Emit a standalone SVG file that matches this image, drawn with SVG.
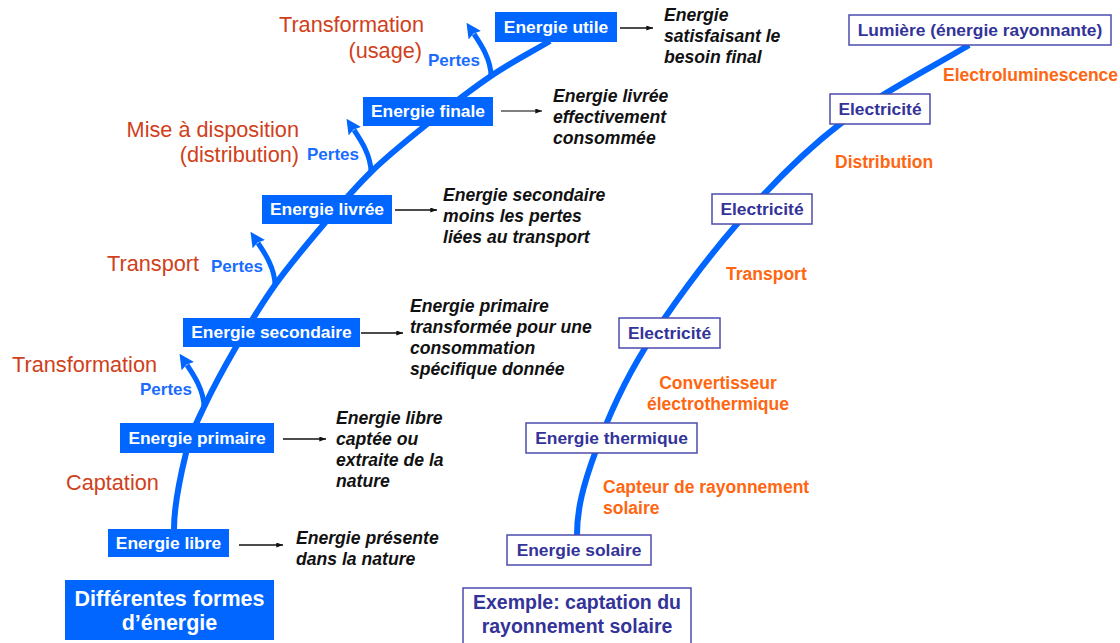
<svg xmlns="http://www.w3.org/2000/svg" width="1120" height="643" viewBox="0 0 1120 643">
<defs>
<style>
.bx{fill:#0066FF}
.bt{font-family:"Liberation Sans",Arial,sans-serif;font-weight:bold;font-size:17.4px;fill:#ffffff;text-anchor:middle}
.px{fill:#ffffff;stroke:#4C4CAE;stroke-width:1.5}
.pt{font-family:"Liberation Sans",Arial,sans-serif;font-weight:bold;font-size:17.4px;fill:#333399;text-anchor:middle}
.ds{font-family:"Liberation Sans",Arial,sans-serif;font-weight:bold;font-style:italic;font-size:17.6px;fill:#111111}
.rd{font-family:"Liberation Sans",Arial,sans-serif;font-size:21.7px;fill:#D0401A}
.pe{font-family:"Liberation Sans",Arial,sans-serif;font-weight:bold;font-size:17px;fill:#1A6CFF}
.or{font-family:"Liberation Sans",Arial,sans-serif;font-weight:bold;font-size:17.5px;fill:#FF6611}
.main{fill:none;stroke:#0066FF;stroke-width:6}
.perte{fill:none;stroke:#0066FF;stroke-width:5;marker-end:url(#bh)}
.thin{fill:none;stroke:#111111;stroke-width:1.3;marker-end:url(#ah)}
</style>
<marker id="ah" viewBox="0 0 8 6" refX="8" refY="3" markerWidth="7" markerHeight="5" markerUnits="userSpaceOnUse" orient="auto">
<path d="M0,0 L8,3 L0,6 z" fill="#111111"/>
</marker>
<marker id="bh" viewBox="0 0 10 10" refX="1" refY="5" markerWidth="15" markerHeight="15" markerUnits="userSpaceOnUse" orient="auto">
<path d="M0,0 L10,5 L0,10 L1.5,5 z" fill="#0066FF"/>
</marker>
</defs>
<rect x="0" y="0" width="1120" height="643" fill="#ffffff"/>

<g id="connectors">
<path class="main" d="M174,529 C174,504 181,473.33 186,453 C191,432.67 195.67,424.67 204,407 C212.33,389.33 224.17,367.33 236,347 C247.83,326.67 260.33,305.5 275,285 C289.67,264.5 308,242.83 324,224 C340,205.17 354,188.5 371,172 C388,155.5 406,141 426,125 C446,109 470.33,90 491,76 C511.67,62 530.33,52.67 550,41"/>
<path class="main" d="M577,535 C577,508 583.67,484.17 595,453 C606.33,421.83 621.33,386.17 645,348 C668.67,309.83 704.5,261.33 737,224 C769.5,186.67 801.33,153.83 840,124 C878.67,94.17 936.75,64.75 969,45"/>
<path class="perte" d="M491,76 C491,59 480,43 474,34"/>
<path class="perte" d="M371,172 C371,155 360,139 354,130"/>
<path class="perte" d="M275,285 C275,268 264,252 258,243"/>
<path class="perte" d="M204,407 C204,390 193,374 187,365"/>
<path class="thin" d="M620,28 L653,28"/>
<path class="thin" d="M501,111 L542,111" style="stroke:#555555"/>
<path class="thin" d="M395,210 L437,210"/>
<path class="thin" d="M361,333 L403,333"/>
<path class="thin" d="M283,439 L326,439"/>
<path class="thin" d="M239,545 L283,545"/>
</g>

<g id="labels">
<text class="rd" x="424" y="32" text-anchor="end">Transformation</text>
<text class="rd" x="422" y="58" text-anchor="end">(usage)</text>
<text class="rd" x="299" y="137" text-anchor="end">Mise à disposition</text>
<text class="rd" x="299" y="162" text-anchor="end">(distribution)</text>
<text class="rd" x="107" y="271">Transport</text>
<text class="rd" x="12" y="372">Transformation</text>
<text class="rd" x="66" y="490">Captation</text>
<text class="pe" x="428" y="66">Pertes</text>
<text class="pe" x="307" y="160">Pertes</text>
<text class="pe" x="211" y="272">Pertes</text>
<text class="pe" x="140" y="395">Pertes</text>
<text class="or" x="943" y="81">Electroluminescence</text>
<text class="or" x="835" y="168">Distribution</text>
<text class="or" x="726" y="280">Transport</text>
<text class="or" x="718" y="389" text-anchor="middle">Convertisseur</text>
<text class="or" x="718" y="410" text-anchor="middle">électrothermique</text>
<text class="or" x="603" y="493">Capteur de rayonnement</text>
<text class="or" x="603" y="514">solaire</text>
</g>

<g id="n-utile">
<rect class="bx" x="495" y="12" width="122" height="30"/>
<text class="bt" x="556" y="33">Energie utile</text>
<text class="ds" x="664" y="21">Energie</text>
<text class="ds" x="664" y="42">satisfaisant le</text>
<text class="ds" x="664" y="63">besoin final</text>
</g>
<g id="n-finale">
<rect class="bx" x="363" y="97" width="130" height="29"/>
<text class="bt" x="428" y="117">Energie finale</text>
<text class="ds" x="553" y="102">Energie livrée</text>
<text class="ds" x="553" y="123">effectivement</text>
<text class="ds" x="553" y="144">consommée</text>
</g>
<g id="n-livree">
<rect class="bx" x="262" y="195" width="130" height="29"/>
<text class="bt" x="327" y="215">Energie livrée</text>
<text class="ds" x="443" y="201">Energie secondaire</text>
<text class="ds" x="443" y="222">moins les pertes</text>
<text class="ds" x="443" y="243">liées au transport</text>
</g>
<g id="n-secondaire">
<rect class="bx" x="183" y="318" width="177" height="29"/>
<text class="bt" x="271.5" y="338">Energie secondaire</text>
<text class="ds" x="410" y="312">Energie primaire</text>
<text class="ds" x="410" y="333">transformée pour une</text>
<text class="ds" x="410" y="354">consommation</text>
<text class="ds" x="410" y="375">spécifique donnée</text>
</g>
<g id="n-primaire">
<rect class="bx" x="120" y="423" width="154" height="30"/>
<text class="bt" x="197" y="444">Energie primaire</text>
<text class="ds" x="336" y="424">Energie libre</text>
<text class="ds" x="336" y="445">captée ou</text>
<text class="ds" x="336" y="466">extraite de la</text>
<text class="ds" x="336" y="487">nature</text>
</g>
<g id="n-libre">
<rect class="bx" x="108" y="529" width="121" height="28"/>
<text class="bt" x="168.5" y="549">Energie libre</text>
<text class="ds" x="296" y="544">Energie présente</text>
<text class="ds" x="296" y="565">dans la nature</text>
</g>
<g id="n-titre-gauche">
<rect class="bx" x="65" y="580" width="209" height="60"/>
<text class="bt" x="169.5" y="606" style="font-size:21.5px">Différentes formes</text>
<text class="bt" x="169.5" y="630" style="font-size:21.5px">d’énergie</text>
</g>

<g id="n-lumiere">
<rect class="px" x="849" y="15" width="262" height="30"/>
<text class="pt" x="980" y="36">Lumière (énergie rayonnante)</text>
</g>
<g id="n-elec1">
<rect class="px" x="830" y="94" width="100" height="30"/>
<text class="pt" x="880" y="115">Electricité</text>
</g>
<g id="n-elec2">
<rect class="px" x="712" y="194" width="100" height="30"/>
<text class="pt" x="762" y="215">Electricité</text>
</g>
<g id="n-elec3">
<rect class="px" x="619" y="318" width="101" height="30"/>
<text class="pt" x="669.5" y="339">Electricité</text>
</g>
<g id="n-thermique">
<rect class="px" x="526" y="423" width="171" height="30"/>
<text class="pt" x="611.5" y="444">Energie thermique</text>
</g>
<g id="n-solaire">
<rect class="px" x="507" y="535" width="144" height="30"/>
<text class="pt" x="579" y="556">Energie solaire</text>
</g>
<g id="n-titre-droite">
<rect class="px" x="463" y="588" width="228" height="70"/>
<text class="pt" x="577" y="609" style="font-size:19.5px">Exemple: captation du</text>
<text class="pt" x="577" y="633" style="font-size:19.5px">rayonnement solaire</text>
</g>
</svg>
